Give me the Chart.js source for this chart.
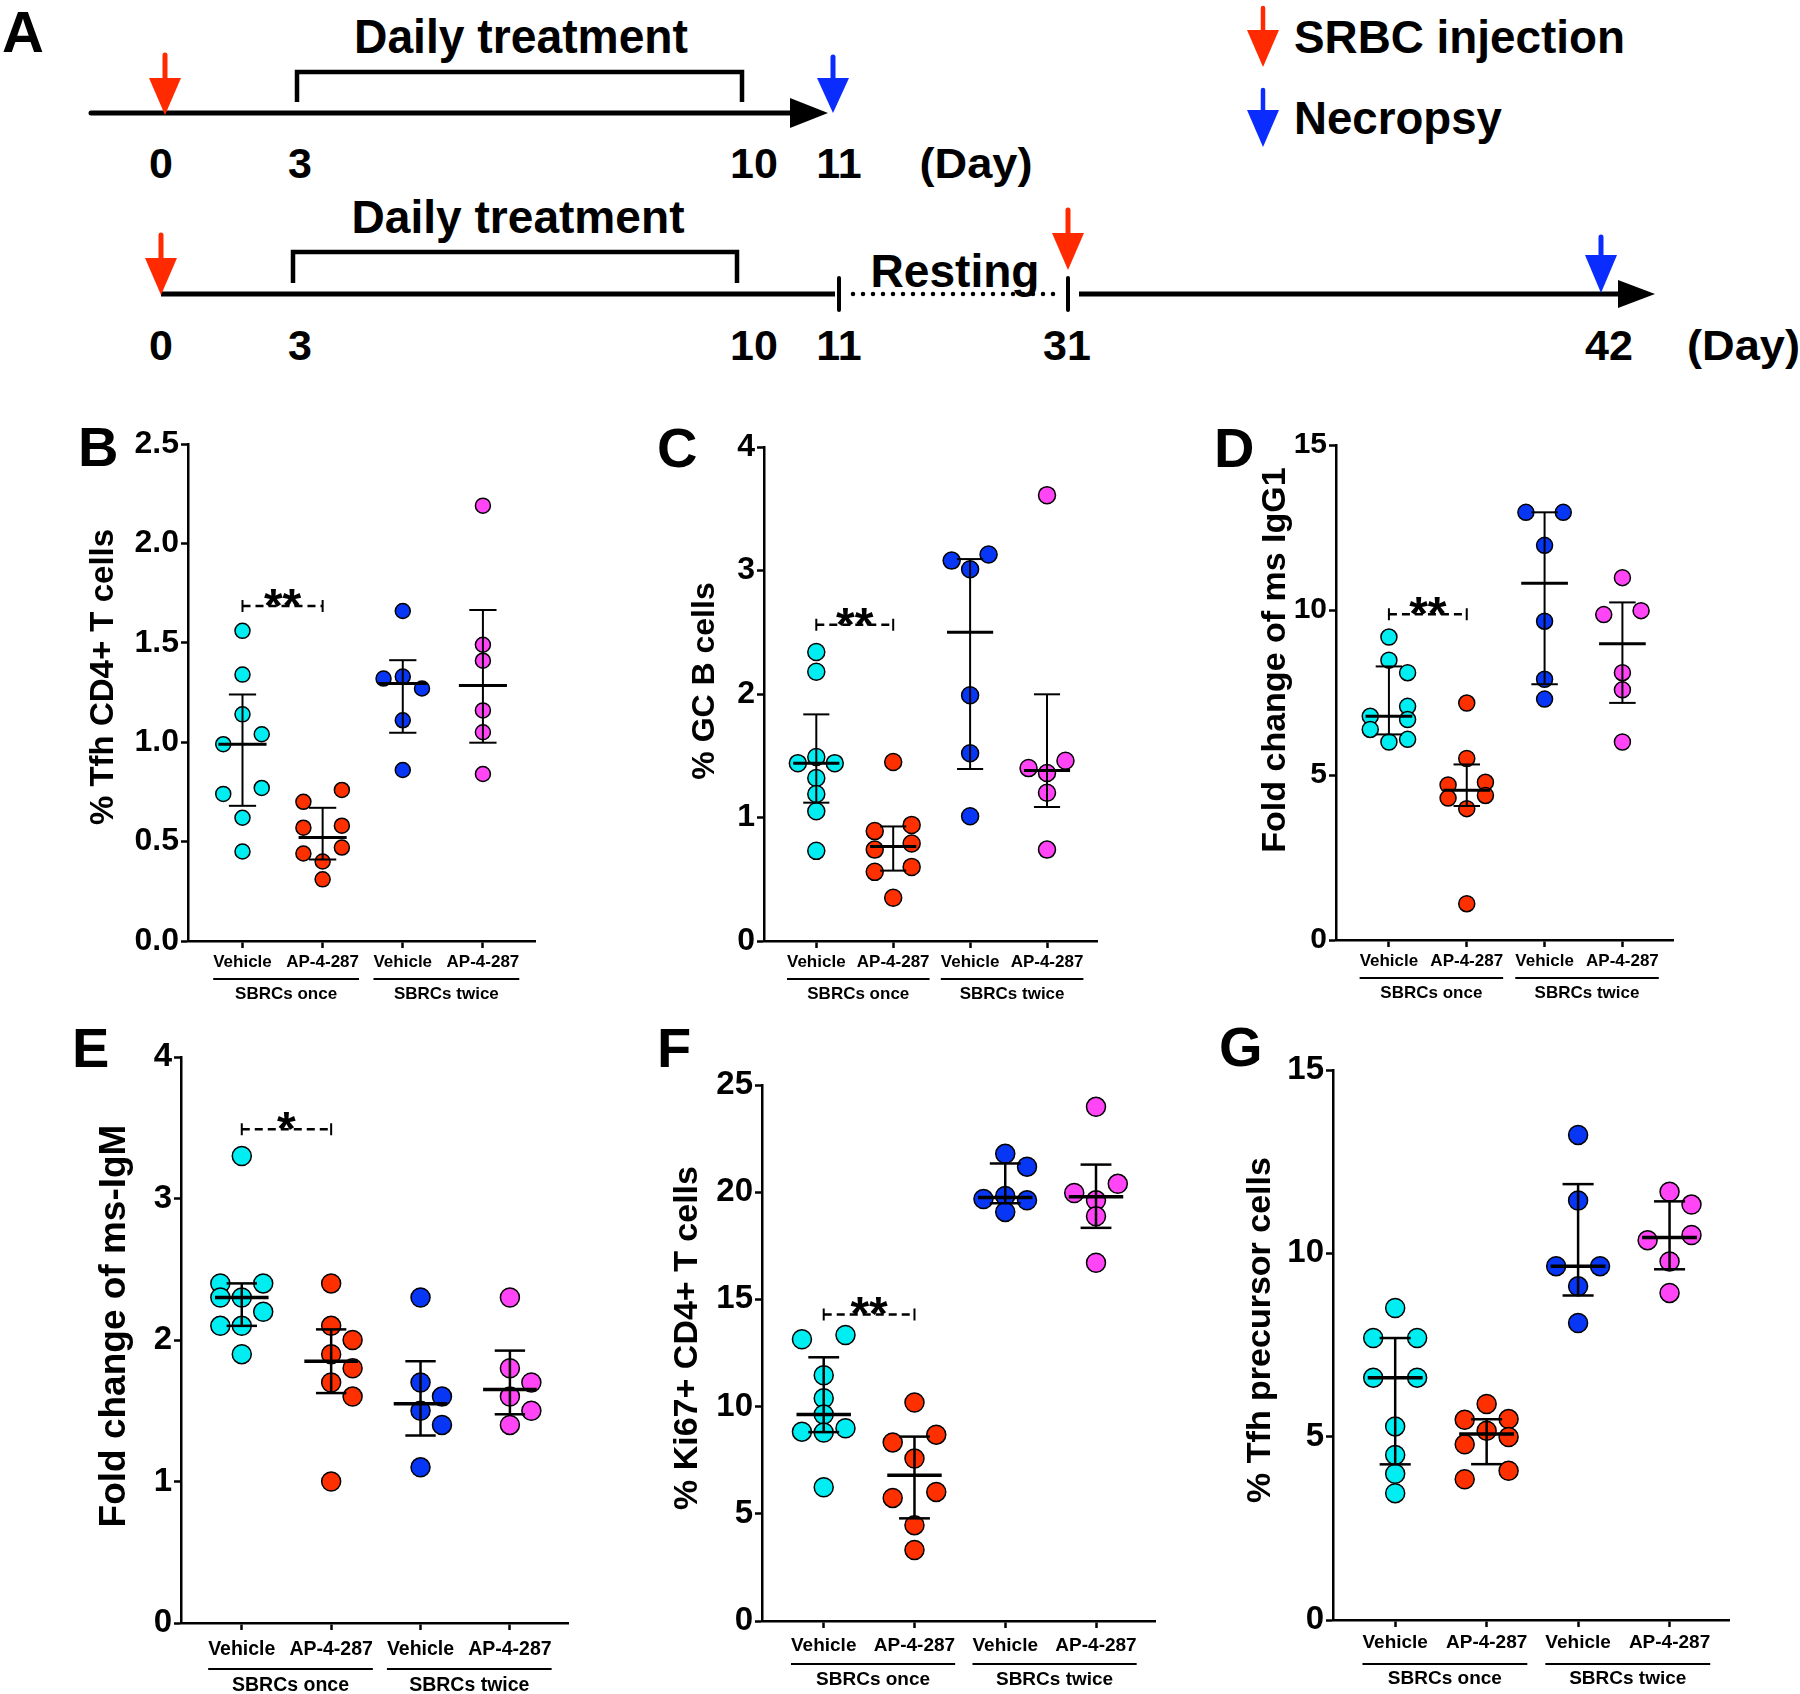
<!DOCTYPE html>
<html>
<head>
<meta charset="utf-8">
<title>SRBC immunisation – Tfh / GC B responses</title>
<script src="https://cdn.jsdelivr.net/npm/chart.js@4.4.1/dist/chart.umd.min.js"></script>
<style>
  body { margin: 0; background: #fff; width: 1800px; height: 1694px; position: relative; overflow: hidden; }
  #timeline { position: absolute; left: 0; top: 0; }
  .panel { position: absolute; }
</style>
</head>
<body>

<svg id="timeline" width="1800" height="390" viewBox="0 0 1800 390"
     font-family="'Liberation Sans', Arial, Helvetica, sans-serif" font-weight="bold">
  <text x="2" y="52" font-size="58">A</text>

  <!-- schedule 1 -->
  <text x="521" y="53" font-size="48" text-anchor="middle" textLength="334" lengthAdjust="spacingAndGlyphs">Daily treatment</text>
  <path d="M297 102 V72 H742 V102" fill="none" stroke="#000" stroke-width="4.5"/>
  <line x1="91" y1="113" x2="795" y2="113" stroke="#000" stroke-width="5" stroke-linecap="round"/>
  <polygon points="790,98 828,113 790,128" fill="#000"/>
  <line x1="165" y1="55" x2="165" y2="82" stroke="#ff2a00" stroke-width="5" stroke-linecap="round"/>
  <polygon points="149,78 181,78 165,115" fill="#ff2a00"/>
  <line x1="833" y1="57" x2="833" y2="82" stroke="#0a2cff" stroke-width="5" stroke-linecap="round"/>
  <polygon points="817,78 849,78 833,113" fill="#0a2cff"/>
  <g font-size="43" text-anchor="middle">
    <text x="161" y="178">0</text>
    <text x="300" y="178">3</text>
    <text x="754" y="178">10</text>
    <text x="839" y="178">11</text>
    <text x="976" y="178" textLength="113" lengthAdjust="spacingAndGlyphs">(Day)</text>
  </g>

  <!-- schedule 2 -->
  <text x="518" y="233" font-size="47" text-anchor="middle" textLength="333" lengthAdjust="spacingAndGlyphs">Daily treatment</text>
  <path d="M293 283 V252 H737 V283" fill="none" stroke="#000" stroke-width="4.5"/>
  <line x1="161" y1="294" x2="835" y2="294" stroke="#000" stroke-width="5"/>
  <line x1="839" y1="278" x2="839" y2="310" stroke="#000" stroke-width="4" stroke-linecap="round"/>
  <line x1="853" y1="294" x2="1060" y2="294" stroke="#000" stroke-width="4.5" stroke-linecap="round" stroke-dasharray="0 10"/>
  <line x1="1068" y1="278" x2="1068" y2="310" stroke="#000" stroke-width="4" stroke-linecap="round"/>
  <line x1="1079" y1="294" x2="1622" y2="294" stroke="#000" stroke-width="5"/>
  <polygon points="1618,280 1655,294 1618,308" fill="#000"/>
  <text x="955" y="287" font-size="46" text-anchor="middle" textLength="169" lengthAdjust="spacingAndGlyphs">Resting</text>
  <line x1="161" y1="235" x2="161" y2="262" stroke="#ff2a00" stroke-width="5" stroke-linecap="round"/>
  <polygon points="145,258 177,258 161,295" fill="#ff2a00"/>
  <line x1="1068" y1="210" x2="1068" y2="237" stroke="#ff2a00" stroke-width="5" stroke-linecap="round"/>
  <polygon points="1052,233 1084,233 1068,270" fill="#ff2a00"/>
  <line x1="1601" y1="237" x2="1601" y2="259" stroke="#0a2cff" stroke-width="5" stroke-linecap="round"/>
  <polygon points="1585,255 1617,255 1601,293" fill="#0a2cff"/>
  <g font-size="43" text-anchor="middle">
    <text x="161" y="360">0</text>
    <text x="300" y="360">3</text>
    <text x="754" y="360">10</text>
    <text x="839" y="360">11</text>
    <text x="1067" y="360">31</text>
    <text x="1609" y="360">42</text>
  </g>
  <text x="1687" y="360" font-size="43" textLength="113" lengthAdjust="spacingAndGlyphs">(Day)</text>

  <!-- key -->
  <line x1="1263" y1="8" x2="1263" y2="34" stroke="#ff2a00" stroke-width="4.5" stroke-linecap="round"/>
  <polygon points="1247,30 1279,30 1263,67" fill="#ff2a00"/>
  <text x="1294" y="53" font-size="46" textLength="331" lengthAdjust="spacingAndGlyphs">SRBC injection</text>
  <line x1="1263" y1="90" x2="1263" y2="114" stroke="#0a2cff" stroke-width="4.5" stroke-linecap="round"/>
  <polygon points="1247,110 1279,110 1263,147" fill="#0a2cff"/>
  <text x="1294" y="134" font-size="46" textLength="208" lengthAdjust="spacingAndGlyphs">Necropsy</text>
</svg>

<script>
// groups on every dot plot
const groupLabels = ['Vehicle', 'AP-4-287', 'Vehicle', 'AP-4-287'];
const regimenLabels = ['SBRCs once', 'SBRCs twice'];
const groupColors = ['#00eef2', '#ff3000', '#0836f5', '#ff45f5'];

const panelLetters = ['B', 'C', 'D', 'E', 'F', 'G'];
const yTitles = [
  '% Tfh CD4+ T cells',
  '% GC B cells',
  'Fold change of ms IgG1',
  'Fold change of ms-IgM',
  '% Ki67+ CD4+ T cells',
  '% Tfh precursor cells'
];
// significance bracket between the two "once" groups (value on y axis)
const bracketLevels = [1.685, 2.56, 9.87, 3.49, 14.3, null];
const bracketMarks = ['**', '**', '**', '*', '**', ''];

// B - % Tfh CD4+ T cells
const tfhCd4 = [
  [1.56, 1.34, 1.14, 1.04, 0.99, 0.77, 0.74, 0.62, 0.45],
  [0.76, 0.70, 0.58, 0.57, 0.47, 0.44, 0.40, 0.31],
  [1.66, 1.33, 1.32, 1.27, 1.11, 0.86],
  [2.19, 1.49, 1.41, 1.16, 1.05, 0.84]
];
const tfhCd4Ticks = ['0.0', '0.5', '1.0', '1.5', '2.0', '2.5'];

// C - % GC B cells
const gcB = [
  [2.34, 2.18, 1.49, 1.44, 1.44, 1.32, 1.19, 1.05, 0.73],
  [1.45, 0.94, 0.89, 0.79, 0.74, 0.60, 0.56, 0.35],
  [3.13, 3.08, 3.01, 1.99, 1.52, 1.01],
  [3.61, 1.46, 1.40, 1.36, 1.20, 0.74]
];
const gcBTicks = ['0', '1', '2', '3', '4'];

// D - fold change of ms IgG1
const igG1 = [
  [9.18, 8.48, 8.10, 7.08, 6.78, 6.68, 6.38, 6.08, 6.00],
  [7.18, 5.50, 4.78, 4.70, 4.38, 4.30, 3.98, 1.10],
  [12.96, 12.96, 11.96, 9.66, 7.90, 7.30],
  [10.98, 9.98, 9.86, 8.10, 7.58, 6.00]
];
const igG1Ticks = ['0', '5', '10', '15'];

// E - fold change of ms-IgM
const igM = [
  [3.3, 2.4, 2.4, 2.3, 2.3, 2.2, 2.1, 2.1, 1.9],
  [2.4, 2.1, 2.0, 1.9, 1.8, 1.7, 1.6, 1.0],
  [2.3, 1.7, 1.6, 1.5, 1.4, 1.1],
  [2.3, 1.8, 1.7, 1.6, 1.5, 1.4]
];
const igMTicks = ['0', '1', '2', '3', '4'];

// F - % Ki67+ CD4+ T cells
const ki67 = [
  [13.34, 13.14, 11.46, 10.39, 9.63, 8.99, 8.83, 8.79, 6.24],
  [10.19, 8.69, 8.33, 7.58, 6.02, 5.74, 4.47, 3.31],
  [21.79, 21.19, 19.82, 19.68, 19.62, 19.08],
  [23.98, 20.39, 19.96, 19.62, 18.88, 16.71]
];
const ki67Ticks = ['0', '5', '10', '15', '20', '25'];

// G - % Tfh precursor cells
const tfhPrecursor = [
  [8.51, 7.69, 7.69, 6.61, 6.61, 5.28, 4.50, 3.99, 3.46],
  [5.89, 5.48, 5.46, 5.16, 4.99, 4.79, 4.07, 3.84],
  [13.23, 11.44, 9.65, 9.65, 9.10, 8.10],
  [11.68, 11.33, 10.50, 10.36, 9.78, 8.92]
];
const tfhPrecursorTicks = ['0', '5', '10', '15'];

const panelData = [tfhCd4, gcB, igG1, igM, ki67, tfhPrecursor];
const panelTicks = [tfhCd4Ticks, gcBTicks, igG1Ticks, igMTicks, ki67Ticks, tfhPrecursorTicks];

// page geometry of each plot (pixels) - layout only
const boxes = [
  { axisX: 188,  top: 444,  bottom: 941,  right: 535,  letterX: 78,   letterY: 466,  titleX: 104,  titleY: 677,  tickFont: 32, catFont: 17,   titleFont: 33, radius: 7.5, catY: 21, lineY: 38, groupY: 53 },
  { axisX: 764,  top: 447,  bottom: 941,  right: 1097, letterX: 657,  letterY: 467,  titleX: 705,  titleY: 681,  tickFont: 32, catFont: 17,   titleFont: 32, radius: 8.5, catY: 21, lineY: 38, groupY: 53 },
  { axisX: 1336, top: 445,  bottom: 940,  right: 1673, letterX: 1214, letterY: 467,  titleX: 1276, titleY: 660,  tickFont: 30, catFont: 17,   titleFont: 34, radius: 8,   catY: 21, lineY: 38, groupY: 53 },
  { axisX: 181,  top: 1057, bottom: 1623, right: 568,  letterX: 72,   letterY: 1067, titleX: 115,  titleY: 1326, tickFont: 33, catFont: 19.5, titleFont: 37, radius: 9.5, catY: 27, lineY: 46, groupY: 63 },
  { axisX: 762,  top: 1085, bottom: 1621, right: 1155, letterX: 657,  letterY: 1067, titleX: 688,  titleY: 1338, tickFont: 33, catFont: 19,   titleFont: 34, radius: 9.5, catY: 25, lineY: 43, groupY: 59 },
  { axisX: 1333, top: 1070, bottom: 1620, right: 1729, letterX: 1219, letterY: 1066, titleX: 1261, titleY: 1330, tickFont: 33, catFont: 19,   titleFont: 34, radius: 9.5, catY: 23, lineY: 44, groupY: 59 }
];

const FONT = "'Liberation Sans', Arial, Helvetica, sans-serif";
const PAD_LEFT = 150, PAD_TOP = 60, PAD_RIGHT = 30, PAD_BOTTOM = 90;
const X_MIN = -0.68, X_MAX = 3.65;
const STEP = 0.24; // horizontal dodge step, in category units

Chart.defaults.font.family = FONT;
Chart.defaults.font.weight = 'bold';
Chart.defaults.color = '#000';
Chart.defaults.animation = false;

// percentile the way Prism does it: position p*(n+1)
function percentile(sorted, p) {
  const pos = p * (sorted.length + 1) - 1;
  const lo = Math.max(0, Math.floor(pos));
  const hi = Math.min(sorted.length - 1, Math.ceil(pos));
  return sorted[lo] + (sorted[hi] - sorted[lo]) * (pos - lo);
}

// simple beeswarm: near-equal values share a row, then overlaps get nudged sideways
function swarm(vals, pxPerUnit, pxPerCat, radius) {
  const order = vals.map((v, i) => i).sort((a, b) => vals[b] - vals[a]);
  const slot = new Array(vals.length).fill(0);
  let row = [];
  const flush = () => {
    const k = row.length;
    row.forEach((idx, j) => {
      if (k % 2) slot[idx] = j === 0 ? 0 : (j % 2 ? -1 : 1) * Math.ceil(j / 2);
      else slot[idx] = (j % 2 ? -1 : 1) * (Math.floor(j / 2) + 1);
    });
    row = [];
  };
  order.forEach(idx => {
    if (row.length && (vals[row[0]] - vals[idx]) * pxPerUnit > 12) flush();
    row.push(idx);
  });
  flush();

  const minDist = radius * 1.6;
  const placed = [];
  order.forEach(idx => {
    const tries = [slot[idx], 0, 1, -1, 0.5, -0.5];
    let best = slot[idx], bestD = -1;
    for (const c of tries) {
      const d = placed.length
        ? Math.min(...placed.map(p => Math.hypot((c - p.c) * STEP * pxPerCat, (vals[idx] - p.v) * pxPerUnit)))
        : Infinity;
      if (d >= minDist) { best = c; break; }
      if (d > bestD) { bestD = d; best = c; }
    }
    slot[idx] = best;
    placed.push({ c: best, v: vals[idx] });
  });
  return slot.map(c => c * STEP);
}

const panelDeco = {
  id: 'panelDeco',
  afterDatasetsDraw(chart, args, opts) {
    const { ctx, scales: { x, y } } = chart;
    const box = opts.box;
    const ox = opts.left, oy = opts.top;
    ctx.save();
    ctx.fillStyle = '#000';
    ctx.strokeStyle = '#000';

    // panel letter
    ctx.font = `bold 56px ${FONT}`;
    ctx.textAlign = 'left';
    ctx.textBaseline = 'alphabetic';
    ctx.fillText(opts.letter, box.letterX - ox, box.letterY - oy);

    // y title
    ctx.save();
    ctx.translate(box.titleX - ox, box.titleY - oy);
    ctx.rotate(-Math.PI / 2);
    ctx.font = `bold ${box.titleFont}px ${FONT}`;
    ctx.textAlign = 'center';
    ctx.textBaseline = 'middle';
    ctx.fillText(opts.title, 0, 0);
    ctx.restore();

    // significance bracket
    if (opts.level != null) {
      const yb = y.getPixelForValue(opts.level);
      const x0 = x.getPixelForValue(0), x1 = x.getPixelForValue(1);
      ctx.lineWidth = 2.5;
      ctx.setLineDash([8, 5]);
      ctx.beginPath();
      ctx.moveTo(x0, yb); ctx.lineTo(x1, yb);
      ctx.stroke();
      ctx.setLineDash([]);
      ctx.lineWidth = 2;
      ctx.beginPath();
      ctx.moveTo(x0, yb - 6); ctx.lineTo(x0, yb + 6);
      ctx.moveTo(x1, yb - 6); ctx.lineTo(x1, yb + 6);
      ctx.stroke();
      ctx.font = `bold 48px ${FONT}`;
      ctx.textAlign = 'center';
      ctx.textBaseline = 'alphabetic';
      ctx.fillText(opts.mark, (x0 + x1) / 2, yb + 16);
    }

    // regimen underlines and labels
    const base = chart.chartArea.bottom;
    ctx.font = `bold ${box.catFont}px ${FONT}`;
    regimenLabels.forEach((label, r) => {
      const a = 2 * r, b = 2 * r + 1;
      const xa = x.getPixelForValue(a) - ctx.measureText(groupLabels[a]).width / 2;
      const xb = x.getPixelForValue(b) + ctx.measureText(groupLabels[b]).width / 2;
      ctx.lineWidth = 2;
      ctx.beginPath();
      ctx.moveTo(xa, base + box.lineY); ctx.lineTo(xb, base + box.lineY);
      ctx.stroke();
      ctx.textAlign = 'center';
      ctx.textBaseline = 'middle';
      ctx.fillText(label, (xa + xb) / 2, base + box.groupY);
    });
    ctx.restore();
  }
};

panelData.forEach((values, i) => {
  const box = boxes[i];
  const tickLabels = panelTicks[i];
  const tickValues = tickLabels.map(Number);
  const yMax = tickValues[tickValues.length - 1];

  const left = box.axisX - PAD_LEFT, top = box.top - PAD_TOP;
  const canvas = document.createElement('canvas');
  canvas.className = 'panel';
  canvas.width = box.right - box.axisX + PAD_LEFT + PAD_RIGHT;
  canvas.height = box.bottom - box.top + PAD_TOP + PAD_BOTTOM;
  canvas.style.left = left + 'px';
  canvas.style.top = top + 'px';
  document.body.appendChild(canvas);

  const pxPerUnit = (box.bottom - box.top) / yMax;
  const pxPerCat = (box.right - box.axisX) / (X_MAX - X_MIN);
  const thin = i < 3 ? 2 : 2.5;

  const datasets = [];
  values.forEach((vals, g) => {
    const s = [...vals].sort((a, b) => a - b);
    const med = percentile(s, 0.5), q1 = percentile(s, 0.25), q3 = percentile(s, 0.75);
    const seg = (pts, w) => ({ data: pts, showLine: true, borderColor: '#000', borderWidth: w, pointRadius: 0, order: 0 });
    datasets.push(seg([{ x: g - 0.3, y: med }, { x: g + 0.3, y: med }], thin + 1));
    datasets.push(seg([{ x: g, y: q1 }, { x: g, y: q3 }], thin));
    datasets.push(seg([{ x: g - 0.17, y: q1 }, { x: g + 0.17, y: q1 }], thin));
    datasets.push(seg([{ x: g - 0.17, y: q3 }, { x: g + 0.17, y: q3 }], thin));
  });
  values.forEach((vals, g) => {
    const offs = swarm(vals, pxPerUnit, pxPerCat, box.radius);
    datasets.push({
      data: vals.map((v, k) => ({ x: g + offs[k], y: v })),
      backgroundColor: groupColors[g],
      borderColor: '#000',
      borderWidth: 1.5,
      pointRadius: box.radius,
      showLine: false,
      order: 1
    });
  });

  new Chart(canvas, {
    type: 'scatter',
    data: { datasets },
    options: {
      responsive: false,
      animation: false,
      layout: { padding: { left: 0, top: PAD_TOP, right: PAD_RIGHT, bottom: 0 } },
      plugins: {
        legend: { display: false },
        tooltip: { enabled: false },
        panelDeco: {
          box, left, top,
          letter: panelLetters[i],
          title: yTitles[i],
          level: bracketLevels[i],
          mark: bracketMarks[i]
        }
      },
      scales: {
        x: {
          type: 'linear',
          min: X_MIN,
          max: X_MAX,
          afterBuildTicks: sc => { sc.ticks = groupLabels.map((l, k) => ({ value: k })); },
          afterFit: sc => { sc.height = PAD_BOTTOM; },
          ticks: {
            callback: (v, k) => groupLabels[k],
            font: { size: box.catFont, weight: 'bold' },
            color: '#000',
            maxRotation: 0,
            autoSkip: false,
            padding: box.catY - 7 - box.catFont * 0.6
          },
          grid: { drawOnChartArea: false, tickLength: 7, tickWidth: 2.5, color: '#000' },
          border: { color: '#000', width: 2.5 }
        },
        y: {
          min: 0,
          max: yMax,
          afterBuildTicks: sc => { sc.ticks = tickValues.map(v => ({ value: v })); },
          afterFit: sc => { sc.width = PAD_LEFT; },
          ticks: {
            callback: (v, k) => tickLabels[k],
            font: { size: box.tickFont, weight: 'bold' },
            color: '#000',
            padding: 2
          },
          grid: { drawOnChartArea: false, tickLength: 7, tickWidth: 2.5, color: '#000' },
          border: { color: '#000', width: 2.5 }
        }
      }
    },
    plugins: [panelDeco]
  });
});
</script>
</body>
</html>
